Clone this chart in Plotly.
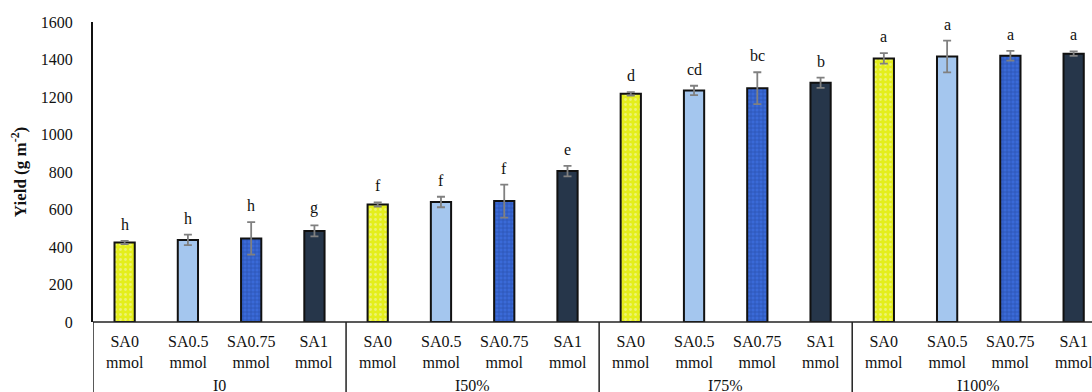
import plotly.graph_objects as go

groups = ["I0", "I50%", "I75%", "I100%"]
sa_levels = ["SA0<br>mmol", "SA0.5<br>mmol", "SA0.75<br>mmol", "SA1<br>mmol"]

# yield values (g m-2) per SA level, one entry per irrigation group
sa0_vals = [424, 627, 1217, 1406]
sa05_vals = [438, 640, 1235, 1416]
sa075_vals = [446, 645, 1247, 1420]
sa1_vals = [486, 805, 1276, 1431]

sa0_err = [8, 11, 9, 28]
sa05_err = [28, 28, 25, 85]
sa075_err = [87, 88, 85, 26]
sa1_err = [29, 28, 27, 12]

sa0_let = ["h", "f", "d", "a"]
sa05_let = ["h", "f", "cd", "a"]
sa075_let = ["h", "f", "bc", "a"]
sa1_let = ["g", "e", "b", "a"]

values = [sa0_vals, sa05_vals, sa075_vals, sa1_vals]
errors = [sa0_err, sa05_err, sa075_err, sa1_err]
letters = [sa0_let, sa05_let, sa075_let, sa1_let]

styles = [
    dict(color="#e4ee1c", pattern=dict(shape=".", fgcolor="#f4f8c8", bgcolor="#e4ee1c", size=5, solidity=0.25)),
    dict(color="#a4c6ee"),
    dict(color="#3462cc", pattern=dict(shape="+", fgcolor="#1c3a8a", bgcolor="#3a6ad8", size=4, solidity=0.35)),
    dict(color="#26364a"),
]

FONT = "Liberation Serif"
FS = 16

fig = go.Figure()
for i in range(4):
    xs = [g * 4 + i for g in range(len(groups))]
    marker = dict(line=dict(color="#111111", width=2))
    marker.update(styles[i])
    fig.add_trace(go.Bar(
        x=xs, y=values[i], width=0.32, marker=marker,
        error_y=dict(type="data", array=errors[i], color="#808080", thickness=1.8, width=4),
        showlegend=False,
    ))
    for g in range(len(groups)):
        fig.add_annotation(x=xs[g], y=values[i][g] + errors[i][g], xref="x", yref="y",
                           text=letters[i][g], showarrow=False, yanchor="bottom", yshift=6,
                           font=dict(family=FONT, size=FS, color="#111111"))

# category labels under the axis
for g in range(len(groups)):
    for i in range(4):
        fig.add_annotation(x=g * 4 + i, y=-0.03, xref="x", yref="paper", text=sa_levels[i],
                           showarrow=False, yanchor="top",
                           font=dict(family=FONT, size=FS, color="#111111"))
    fig.add_annotation(x=g * 4 + 1.5, y=-0.175, xref="x", yref="paper", text=groups[g],
                       showarrow=False, yanchor="top",
                       font=dict(family=FONT, size=FS, color="#111111"))

shapes = [dict(type="line", xref="paper", yref="paper", x0=0, x1=1, y0=0, y1=0,
               line=dict(color="#222222", width=1.5))]
for g in range(len(groups)):
    shapes.append(dict(type="line", xref="x", yref="paper", x0=g * 4 - 0.5, x1=g * 4 - 0.5,
                       y0=0, y1=-0.25, line=dict(color="#222222", width=1.5)))
fig.update_layout(shapes=shapes)

fig.update_layout(
    width=1092, height=392,
    margin=dict(l=93, r=0, t=22, b=70),
    plot_bgcolor="white", paper_bgcolor="white",
    barmode="overlay",
    font=dict(family=FONT, size=FS, color="#111111"),
    xaxis=dict(range=[-0.5, 15.29], showticklabels=False, showgrid=False, zeroline=False,
               ticks="", showline=False),
    yaxis=dict(range=[0, 1600], dtick=200, showgrid=False, zeroline=False, ticks="",
               showline=True, linecolor="#111111", linewidth=2, ticklabelstandoff=15,
               tickfont=dict(family=FONT, size=FS, color="#111111"),
               title=dict(text="<b>Yield (g m<sup>-2</sup>)</b>", standoff=10,
                          font=dict(family=FONT, size=17, color="#111111"))),
)

fig.write_html("out.html")
